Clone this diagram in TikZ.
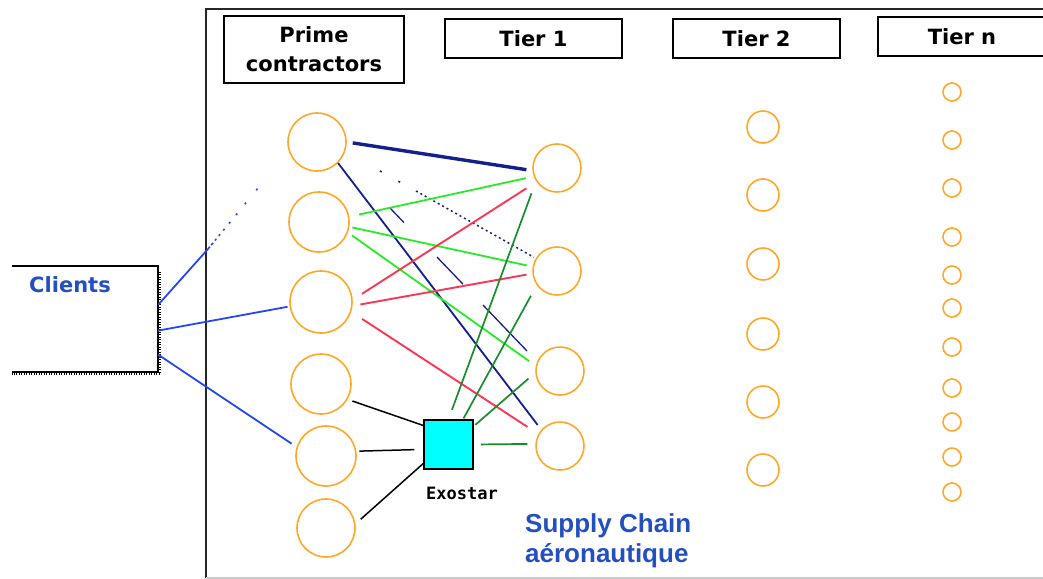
\documentclass[tikz,border=0pt]{standalone}
\usepackage{fontspec}
\setmainfont{DejaVu Sans}
\newfontfamily\libsans{Liberation Sans}
\newfontfamily\dmono{DejaVu Sans Mono}
\definecolor{orangeC}{RGB}{255,168,40}
\definecolor{navyC}{RGB}{20,30,140}
\definecolor{lgreen}{RGB}{40,235,40}
\definecolor{dgreen}{RGB}{25,140,45}
\definecolor{redC}{RGB}{250,55,85}
\definecolor{blueL}{RGB}{40,70,240}
\definecolor{textblue}{RGB}{35,80,190}
\definecolor{cyanC}{RGB}{0,255,255}
\begin{document}
\begin{tikzpicture}[x=1pt,y=-1pt,
  orb/.style={circle, draw=orangeC, line width=1.6pt, inner sep=0pt, minimum size=#1},
  header/.style={draw, line width=1.8pt, font=\bfseries\fontsize{21}{29}\selectfont, align=center, inner sep=0pt},
  navyline/.style={draw=navyC, line width=1.8pt},
  lgline/.style={draw=lgreen, line width=1.8pt},
  dgline/.style={draw=dgreen, line width=1.7pt},
  redline/.style={draw=redC, line width=1.9pt},
  blkline/.style={draw=black, line width=1.5pt},
  blueline/.style={draw=blueL, line width=1.8pt}]
\useasboundingbox (0,0) rectangle (1043,578);

% frame
\draw[line width=2pt, black!85] (1060,9) -- (206,9) -- (206,577.5);
\draw[line width=2pt, black!20] (206,577.5) -- (1060,577.5);

% headers
\node[header, minimum width=180pt, minimum height=67pt] (prime) at (314,49.5) {Prime\\contractors};
\node[header, minimum width=177pt, minimum height=39pt] (tier1) at (533.5,38.5) {Tier 1};
\node[header, minimum width=167pt, minimum height=39pt] (tier2) at (756.5,38.5) {Tier 2};
\node[header, minimum width=168pt, minimum height=39pt] (tiern) at (962,36.5) {Tier n};

% clients box
\node[minimum width=146pt, minimum height=106pt, inner sep=0pt] (C) at (85,319) {};
\draw[line width=1.5pt] (C.north west) -- (C.north east) -- (C.south east) -- (C.south west);
\draw[line width=3pt, dash pattern=on 1pt off 1.5pt] ([xshift=1.5pt,yshift=-6pt]C.north east) -- ([xshift=1.5pt,yshift=-1.5pt]C.south east);
\draw[line width=3pt, dash pattern=on 1pt off 1.5pt] ([xshift=1.5pt,yshift=-1.5pt]C.south east) -- ([yshift=-1.5pt]C.south west);
\node[font=\bfseries\fontsize{21}{21}\selectfont, text=textblue, inner sep=0pt] (CT) at (70,285) {Clients};

% prime contractors
\node[orb=58pt] (P1) at (317,142) {};
\node[orb=60pt] (P2) at (319,222) {};
\node[orb=62pt] (P3) at (321,302) {};
\node[orb=60pt] (P4) at (321,384) {};
\node[orb=60pt] (P5) at (326,456) {};
\node[orb=58pt] (P6) at (326,528) {};

% tier 1
\node[orb=48pt] (T1a) at (557,168) {};
\node[orb=48pt] (T1b) at (557,271) {};
\node[orb=48pt] (T1c) at (560,371) {};
\node[orb=48pt] (T1d) at (560,446) {};

% tier 2
\foreach \i/\yy in {1/127,2/195,3/264,4/334,5/402,6/470}
  \node[orb=32pt] (T2\i) at (763,\yy) {};

% tier n
\foreach \i/\yy in {1/92,2/140,3/188,4/237,5/275,6/308,7/347,8/388,9/422,10/457,11/492}
  \node[orb=18pt] (Tn\i) at (952,\yy) {};

% exostar
\node[draw, fill=cyanC, line width=1.5pt, minimum size=49pt, inner sep=0pt] (E) at (448.5,444.5) {};
\node[font=\dmono\bfseries\fontsize{17}{17}\selectfont, inner sep=0pt] (EL) at (462,493) {Exostar};

% supply chain text
\node[font=\libsans\bfseries\fontsize{26}{30}\selectfont, text=textblue, align=left, anchor=north west, inner sep=0pt] (SC) at (525,513) {Supply Chain\\aéronautique};

% clients lines
\coordinate (cm) at (208,249);
\coordinate (cdA) at (268,176);
\draw[blueline] (C.11) -- (cm);
\draw[blueline, line width=1.6pt, dash pattern=on 3pt off 2pt on 3pt off 3pt on 2pt off 4pt on 2pt off 5pt on 2pt off 7pt on 2pt off 9pt on 2pt off 12pt on 2pt off 16pt on 2pt off 20pt] (cm) -- (cdA);
\draw[blueline, shorten >=2pt] (C.-9) -- (P3.188);
\draw[blueline, shorten >=6pt] (C.-26) -- (P5.163);

% navy lines
\draw[navyline, line width=3.4pt, shorten <=6pt, shorten >=6pt] (P1.0) -- (T1a.186);
\draw[navyline, shorten >=6pt] (P1.-45) -- (T1d.139);
\coordinate (dA) at (380,171);
\coordinate (dB) at (416,191);
\draw[navyline, line width=1.6pt, dash pattern=on 2pt off 19pt] (dA) -- (dB);
\draw[navyline, line width=1.5pt, dash pattern=on 2pt off 3pt, shorten >=2pt] (dB) -- (T1b.149);
\coordinate (d1) at (390,208);
\coordinate (d2) at (527,351);
\draw[navyline, line width=1.3pt, dash pattern=on 20pt off 48pt on 37.5pt off 29pt on 70pt] (d1) -- (d2);

% light green lines
\draw[lgline, shorten <=10pt, shorten >=8pt] (P2.10) -- (T1a.200);
\draw[lgline, shorten <=3pt, shorten >=6pt] (P2.-9) -- (T1b.170);
\draw[lgline, shorten <=5pt, shorten >=8pt] (P2.-20) -- (T1c.168);

% red lines
\draw[redline, shorten <=11pt, shorten >=12pt] (P3.4) -- (T1a.214);
\draw[redline, shorten <=8pt, shorten >=6pt] (P3.-7) -- (T1b.186);
\draw[redline, shorten <=13pt, shorten >=13pt] (P3.-18) -- (T1d.151);

% dark green lines
\draw[dgline, shorten <=10pt, shorten >=13pt] (E.north) -- (T1a.212);
\draw[dgline, shorten <=1pt, shorten >=12pt] (E.60) -- (T1b.215);
\draw[dgline, shorten <=2pt, shorten >=9pt] (E.36) -- (T1c.184);
\draw[dgline, shorten <=7pt, shorten >=8pt] (E.east) -- (T1d.175);

% black lines
\draw[blkline, shorten <=5pt] (P4.-30) -- (E.143);
\draw[blkline, shorten <=3pt, shorten >=9pt] (P5.9) -- (E.191);
\draw[blkline, shorten <=7pt] (P6.8) -- (E.217);
\end{tikzpicture}
\end{document}
